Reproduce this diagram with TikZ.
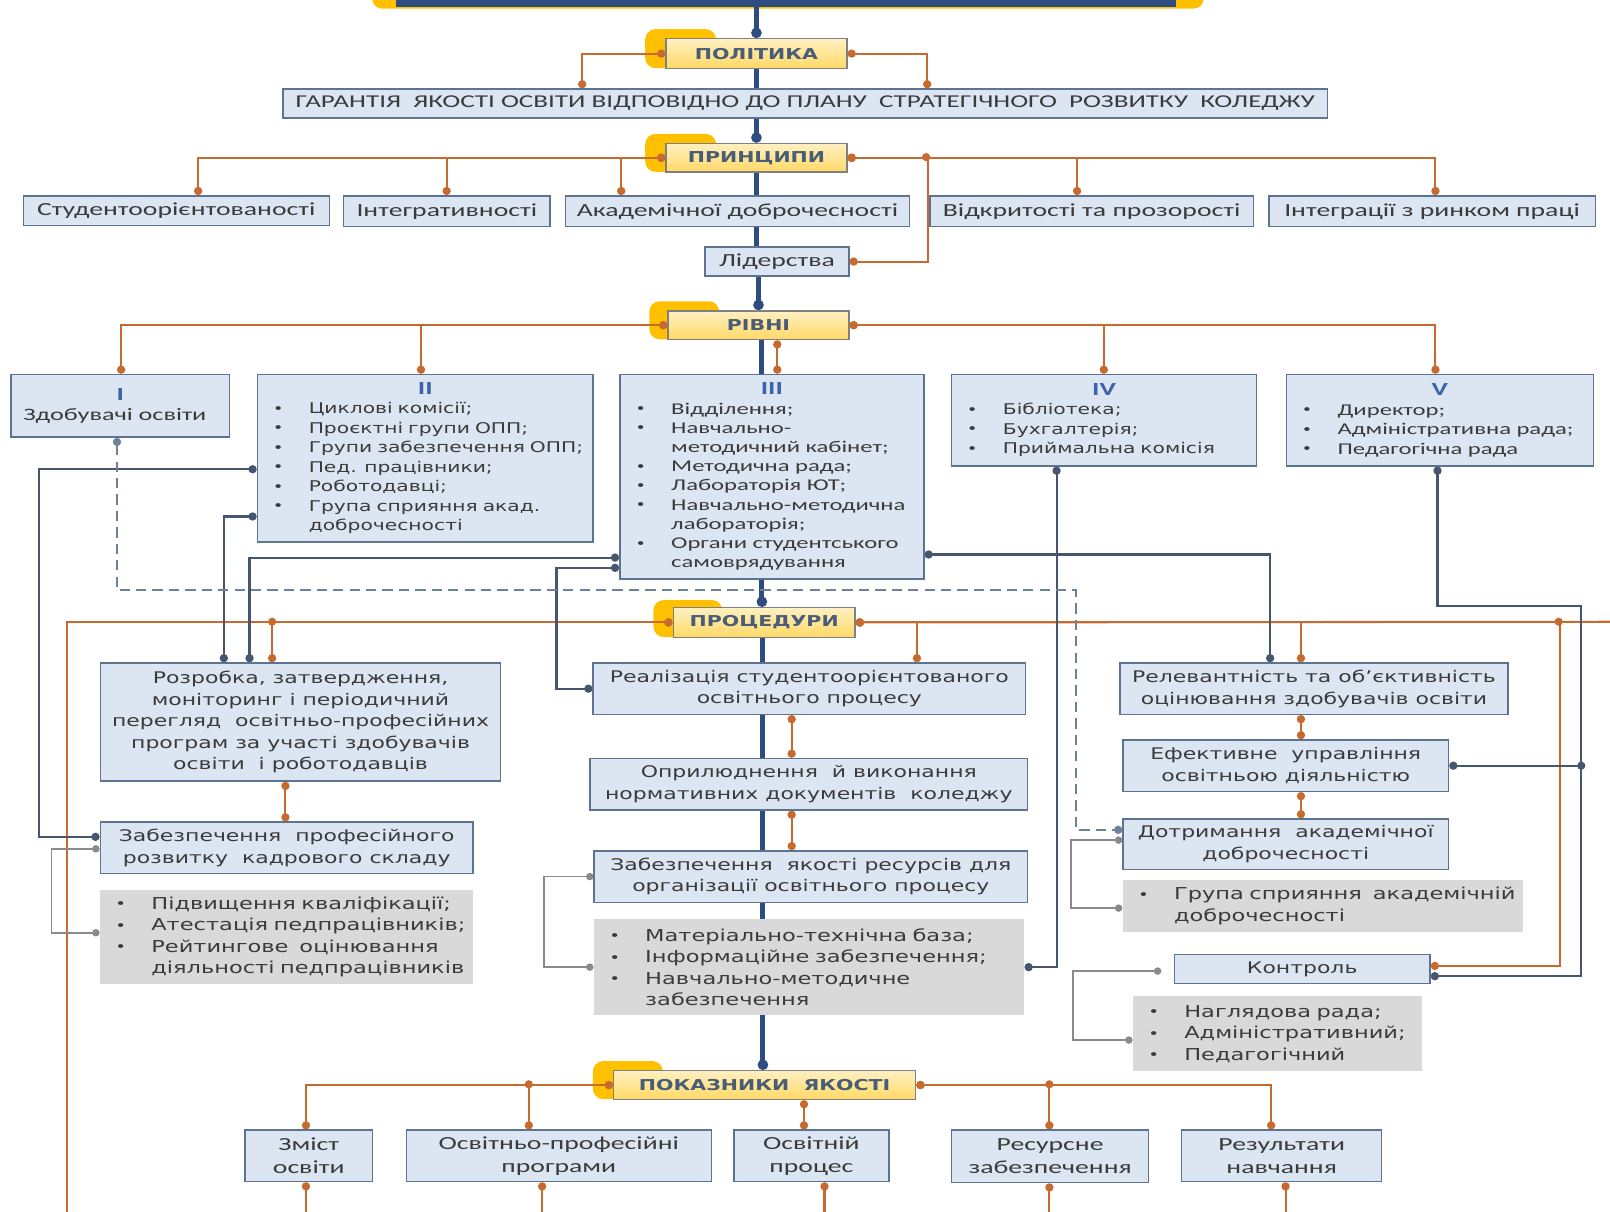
\documentclass[tikz,border=0pt]{standalone}
\usepackage{fontspec}
\setmainfont{Carlito}
\newfontfamily\fA[FakeStretch=1.5]{Carlito}
\newfontfamily\fB[FakeStretch=1.37]{DejaVu Sans}
\usetikzlibrary{arrows.meta,calc}
\pgfdeclarelayer{tabs}
\pgfdeclarelayer{bg}
\pgfsetlayers{tabs,bg,main}
\definecolor{lblue}{HTML}{DCE6F2}
\definecolor{bord}{HTML}{5C7391}
\definecolor{gold}{HTML}{FFC000}
\definecolor{ytop}{HTML}{FFF0C2}
\definecolor{ybot}{HTML}{FFD966}
\definecolor{orn}{HTML}{C86A2E}
\definecolor{spn}{HTML}{2E4B82}
\definecolor{slt}{HTML}{46566E}
\definecolor{gry}{HTML}{8A8A8A}
\definecolor{gfill}{HTML}{D9D9D9}
\definecolor{htxt}{HTML}{4A5D78}
\definecolor{txt}{HTML}{3B3B3B}
\definecolor{num}{HTML}{3F63A8}
\definecolor{dsh}{HTML}{6F8098}
\newcommand\B[7]{\node[#6,anchor=north west,minimum width={(#4-#2)*0.5pt},minimum height={(#5-#3)*0.5pt}] (#1) at (#2,#3) {#7};}
\newcommand\bi[1]{\mbox{\makebox[17.5pt][l]{\fB\fontsize{6.5}{7}\selectfont\raisebox{0.2pt}{•}}#1}}
\newcommand\ci[1]{\mbox{\hspace*{17.5pt}#1}}
\newcommand\ctr[1]{\hspace*{\fill}#1\hspace*{\fill}\null}
\newcommand\nm[1]{\ctr{\textcolor{num}{\fA\bfseries\fontsize{9}{9.5}\selectfont #1}}}
\begin{document}
\begin{tikzpicture}[x=0.5pt,y=-0.5pt,
  bx/.style={draw=bord,fill=lblue,line width=0.7pt,inner sep=0pt,text=txt,align=center},
  gbx/.style={fill=gfill,inner sep=0pt,text=txt,align=left,inner xsep=7.5pt},
  blt/.style={align=left,inner xsep=7.5pt},
  hd/.style={draw=black!50,top color=ytop,bottom color=ybot,line width=0.7pt,inner sep=0pt,text=htxt,font=\fB\bfseries\fontsize{7.3}{9}\selectfont},
  tabst/.style={fill=gold,rounded corners=5pt,inner sep=0pt},
  fpa/.style={font=\fA\fontsize{9}{11}\selectfont},
  fpr/.style={font=\fB\fontsize{7.8}{10.5}\selectfont},
  fgr/.style={font=\fB\fontsize{8}{10.5}\selectfont},
  oc/.style={draw=orn,line width=1pt,{Circle[length=4pt]}-{Circle[length=4pt]}},
  oc1/.style={draw=orn,line width=1pt,{Circle[length=4pt]}-},
  sl/.style={draw=slt,line width=1pt,{Circle[length=4pt]}-{Circle[length=4pt]}},
  sl1/.style={draw=slt,line width=1pt,{Circle[length=4pt]}-},
  gl/.style={draw=gry,line width=0.8pt,{Circle[length=3.6pt]}-{Circle[length=3.6pt]}},
  ds/.style={draw=dsh,line width=0.9pt,dash pattern=on 5pt off 3pt,{Circle[length=4pt]}-{Circle[length=4pt]}},
  sp/.style={draw=spn,line width=2.4pt},
  spd/.style={draw=spn,line width=2.4pt,-{Circle[length=5pt]}},
  jo/.style={fill=orn},
  js/.style={fill=slt}
]
\useasboundingbox (0,0) rectangle (1568,1180);
% ---------- tabs
\begin{pgfonlayer}{tabs}
\B{topY}{362}{-40}{1172}{8}{tabst}{}
\B{tpol}{628}{28}{697}{66}{tabst}{}
\B{tprin}{628}{130}{697}{167}{tabst}{}
\B{triv}{632}{293}{700}{330}{tabst}{}
\B{tproc}{636}{584}{703}{620}{tabst}{}
\B{tpok}{577}{1033}{645}{1070}{tabst}{}
\end{pgfonlayer}
\B{topB}{385}{-40}{1145}{6}{fill=spn,inner sep=0pt}{}
% ---------- headings
\B{pol}{648}{37}{824}{66}{hd}{ПОЛІТИКА}
\B{prin}{648}{139}{824}{167}{hd}{ПРИНЦИПИ}
\B{riv}{650}{302}{826}{330}{hd}{РІВНІ}
\B{proc}{655}{591}{832}{620}{hd}{ПРОЦЕДУРИ}
\B{pok}{597}{1042}{891}{1070}{hd}{ПОКАЗНИКИ~~ЯКОСТІ}
% ---------- top boxes
\B{gar}{275}{86}{1292}{114}{bx,font=\fA\fontsize{8.8}{11}\selectfont}{ГАРАНТІЯ~~ЯКОСТІ ОСВІТИ ВІДПОВІДНО ДО ПЛАНУ~~СТРАТЕГІЧНОГО~~РОЗВИТКУ~~КОЛЕДЖУ}
\B{stud}{22}{190}{320}{219}{bx,fpa}{Студентоорієнтованості}
\B{integ}{334}{190}{535}{220}{bx,fpa}{Інтегративності}
\B{akad}{550}{190}{885}{220}{bx,fpa}{Академічної доброчесності}
\B{vidk}{905}{190}{1220}{220}{bx,fpa}{Відкритості та прозорості}
\B{rynok}{1235}{190}{1553}{220}{bx,fpa}{Інтеграції з ринком праці}
\B{lid}{686}{240}{826}{268}{bx,fpa}{Лідерства}
% ---------- levels
\B{b1}{10}{364}{223}{425}{bx,align=left,inner xsep=6pt,text width=94.5pt,font=\fA\fontsize{8.5}{10}\selectfont}{\nm{I}\\Здобувачі освіти}
\B{b2}{250}{364}{577}{527}{bx,blt,text width=148.5pt,font=\fB\fontsize{7.2}{9.5}\selectfont}{\nm{II}\\
\bi{Циклові комісії;}\\\bi{Проєктні групи ОПП;}\\\bi{Групи забезпечення ОПП;}\\\bi{Пед. працівники;}\\\bi{Роботодавці;}\\\bi{Група сприяння акад.}\\\ci{доброчесності}}
\B{b3}{603}{364}{899}{563}{bx,blt,text width=133pt,font=\fA\fontsize{8}{9.35}\selectfont}{\nm{III}\\
\bi{Відділення;}\\\bi{Навчально-}\\\ci{методичний кабінет;}\\\bi{Методична рада;}\\\bi{Лабораторія ЮТ;}\\\bi{Навчально-методична}\\\ci{лабораторія;}\\\bi{Органи студентського}\\\ci{самоврядування}}
\B{b4}{926}{364}{1223}{453}{bx,blt,text width=133.5pt,font=\fB\fontsize{7.2}{9.5}\selectfont}{\nm{IV}\\
\bi{Бібліотека;}\\\bi{Бухгалтерія;}\\\bi{Приймальна комісія}}
\B{b5}{1252}{364}{1551}{453}{bx,blt,text width=134.5pt,font=\fA\fontsize{8}{9.5}\selectfont}{\nm{V}\\
\bi{Директор;}\\\bi{Адміністративна рада;}\\\bi{Педагогічна рада}}
% ---------- procedures
\B{rozr}{97}{645}{487}{760}{bx,fpr}{Розробка, затвердження,\\моніторинг і періодичний\\перегляд~~освітньо-професійних\\програм за участі здобувачів\\освіти~~і роботодавців}
\B{real}{577}{645}{998}{695}{bx,fpr}{Реалізація студентоорієнтованого\\освітнього процесу}
\B{rel}{1090}{645}{1468}{695}{bx,fpr}{Релевантність та об’єктивність\\оцінювання здобувачів освіти}
\B{opr}{574}{738}{1000}{788}{bx,fpr}{Оприлюднення~~й виконання\\нормативних документів~~коледжу}
\B{efk}{1093}{720}{1410}{770}{bx,fpr}{Ефективне~~управління\\освітньою діяльністю}
\B{zpr}{97}{800}{460}{850}{bx,fpr}{Забезпечення~~професійного\\розвитку~~кадрового складу}
\B{dotr}{1093}{797}{1410}{846}{bx,fpr}{Дотримання~~академічної\\доброчесності}
\B{zyak}{578}{828}{1000}{878}{bx,fpr}{Забезпечення~~якості ресурсів для\\організації освітнього процесу}
\B{g3}{1093}{857}{1483}{907}{gbx,fgr,text width=180pt}{\bi{Група сприяння~~академічній}\\\ci{доброчесності}}
\B{g1}{97}{866}{460}{958}{gbx,fgr,text width=166.5pt}{\bi{Підвищення кваліфікації;}\\\bi{Атестація педпрацівників;}\\\bi{Рейтингове~~оцінювання}\\\ci{діяльності педпрацівників}}
\B{mat}{578}{895}{997}{988}{gbx,fgr,text width=194.5pt}{\bi{Матеріально-технічна база;}\\\bi{Інформаційне забезпечення;}\\\bi{Навчально-методичне}\\\ci{забезпечення}}
\B{kon}{1143}{929}{1392}{957}{bx,fpr}{Контроль}
\B{g4}{1103}{970}{1384}{1043}{gbx,fgr,text width=125.5pt}{\bi{Наглядова рада;}\\\bi{Адміністративний;}\\\bi{Педагогічний}}
% ---------- indicators
\B{zm}{238}{1100}{362}{1150}{bx,fpa}{Зміст\\освіти}
\B{op}{395}{1100}{692}{1150}{bx,fpa}{Освітньо-професійні\\програми}
\B{osp}{714}{1100}{865}{1150}{bx,fpa}{Освітній\\процес}
\B{rs}{926}{1100}{1118}{1151}{bx,fpa}{Ресурсне\\забезпечення}
\B{rz}{1150}{1100}{1345}{1150}{bx,fpa}{Результати\\навчання}
\coordinate (offL) at (65,1205);
\coordinate (offR) at (1600,605.5);
% ---------- connectors
\begin{pgfonlayer}{bg}
% spine
\draw[spd] (pol.north |- topB.south) -- (pol.north);
\draw[sp] (pol.south) -- (pol.south |- gar.north);
\draw[spd] (prin.north |- gar.south) -- (prin.north);
\draw[sp] (prin.south) -- (prin.south |- lid.north);
\draw[spd] (riv.north |- lid.south) -- (riv.north);
\draw[sp] (742,0 |- riv.south) -- (742,0 |- b3.north);
\draw[spd] (742,0 |- b3.south) -- (742,0 |- proc.north);
\draw[sp] (743,0 |- proc.south) -- (743,0 |- real.north);
\draw[sp] (743,0 |- real.south) -- (743,0 |- opr.north);
\draw[sp] (743,0 |- opr.south) -- (743,0 |- zyak.north);
\draw[sp] (743,0 |- zyak.south) -- (743,0 |- mat.north);
\draw[spd] (743,0 |- mat.south) -- (743,0 |- pok.north);
% orange: policy / principles
\draw[oc] (pol.west) -| (567,0 |- gar.north);
\draw[oc] (pol.east) -| (903,0 |- gar.north);
\draw[oc] (prin.west) -| (193,0 |- stud.north);
\draw[oc] (prin.west) -| (435,0 |- integ.north);
\draw[oc] (prin.west) -| (605,0 |- akad.north);
\draw[oc] (prin.east) -| (1049,0 |- vidk.north);
\draw[oc] (prin.east) -| (1398,0 |- rynok.north);
\draw[oc] (prin.east) -| ($(lid.east)+(76,0)$) -- (lid.east);
\fill[jo] (902,153) circle (2pt);
% orange: levels
\draw[oc] (riv.west) -| (118,0 |- b1.north);
\draw[oc] (riv.west) -| (410,0 |- b2.north);
\draw[oc] (riv.east) -| (1075,0 |- b4.north);
\draw[oc] (riv.east) -| (1398,0 |- b5.north);
\draw[oc] (757,0 |- riv.south) -- (757,0 |- b3.north);
% orange: procedures
\draw[oc] (proc.west) -| (offL);
\draw[oc] (proc.west) -| (265,0 |- rozr.north);
\fill[jo] (265,605.5) circle (2pt);
\draw[oc1] (proc.east) -- (offR);
\draw[oc] (proc.east) -| (893,0 |- real.north);
\draw[oc] (proc.east) -| (1267,0 |- rel.north);
\draw[oc] (proc.east) -| ($(kon.east)+(126,-3)$) -- ($(kon.east)+(0,-3)$);
\fill[jo] (1518,605.5) circle (2pt);
\draw[oc] (771,0 |- real.south) -- (771,0 |- opr.north);
\draw[oc] (771,0 |- opr.south) -- (771,0 |- zyak.north);
\draw[oc] (278,0 |- rozr.south) -- (278,0 |- zpr.north);
\draw[oc] (1267,0 |- rel.south) -- (1267,0 |- efk.north);
\draw[oc] (1267,0 |- efk.south) -- (1267,0 |- dotr.north);
% orange: indicators
\draw[oc] (pok.west) -| (298,0 |- zm.north);
\draw[oc] (pok.west) -| (515,0 |- op.north);
\fill[jo] (515,1056) circle (2pt);
\draw[oc] (pok.east) -| (1022,0 |- rs.north);
\draw[oc] (pok.east) -| (1238,0 |- rz.north);
\fill[jo] (1022,1056) circle (2pt);
\draw[oc] (783,0 |- pok.south) -- (783,0 |- osp.north);
\coordinate (e1) at (298,1190);
\coordinate (e2) at (528,1190);
\coordinate (e3) at (803,1190);
\coordinate (e4) at (1022,1190);
\coordinate (e5) at (1252,1190);
\draw[oc] (298,0 |- zm.south) -- (e1);
\draw[oc] (528,0 |- op.south) -- (e2);
\draw[oc] (803,0 |- osp.south) -- (e3);
\draw[oc] (1022,0 |- rs.south) -- (e4);
\draw[oc] (1252,0 |- rz.south) -- (e5);
% slate connectors
\draw[sl] (b2.west |- 0,457) -| (38,815) -- (zpr.west |- 0,815);
\draw[sl] (b2.west |- 0,503) -| (218,0 |- rozr.north);
\draw[sl] (b3.west |- 0,543) -| (243,0 |- rozr.north);
\draw[sl] (b3.west |- 0,553) -| ($(real.west)+(-35,0)$) -- (real.west);
\draw[sl] (b3.east |- 0,540) -| (1237,0 |- rel.north);
\draw[sl] (1029,0 |- b4.south) |- (mat.east);
\draw[sl] (1400,0 |- b5.south) |- (1540,590) |- ($(kon.east)+(0,7)$);
\draw[sl1] (efk.east) -- (1540,0 |- efk.east);
\fill[js] (1540,0 |- efk.east) circle (2pt);
% dashed
\draw[ds] (114,0 |- b1.south) |- (1048,575) |- ($(dotr.west)+(0,-14)$);
% grey
\draw[gl] ($(zpr.west)+(0,1)$) -| ($(g1.west)+(-47,-4)$) -- ($(g1.west)+(0,-4)$);
\draw[gl] (zyak.west) -| ($(mat.west)+(-48,0)$) -- (mat.west);
\draw[gl] ($(dotr.west)+(0,-4)$) -| ($(g3.west)+(-50,2)$) -- ($(g3.west)+(0,2)$);
\draw[gl] ($(kon.west)+(-12,2)$) -| ($(g4.west)+(-58,6)$) -- ($(g4.west)+(0,6)$);
\end{pgfonlayer}
\end{tikzpicture}
\end{document}
